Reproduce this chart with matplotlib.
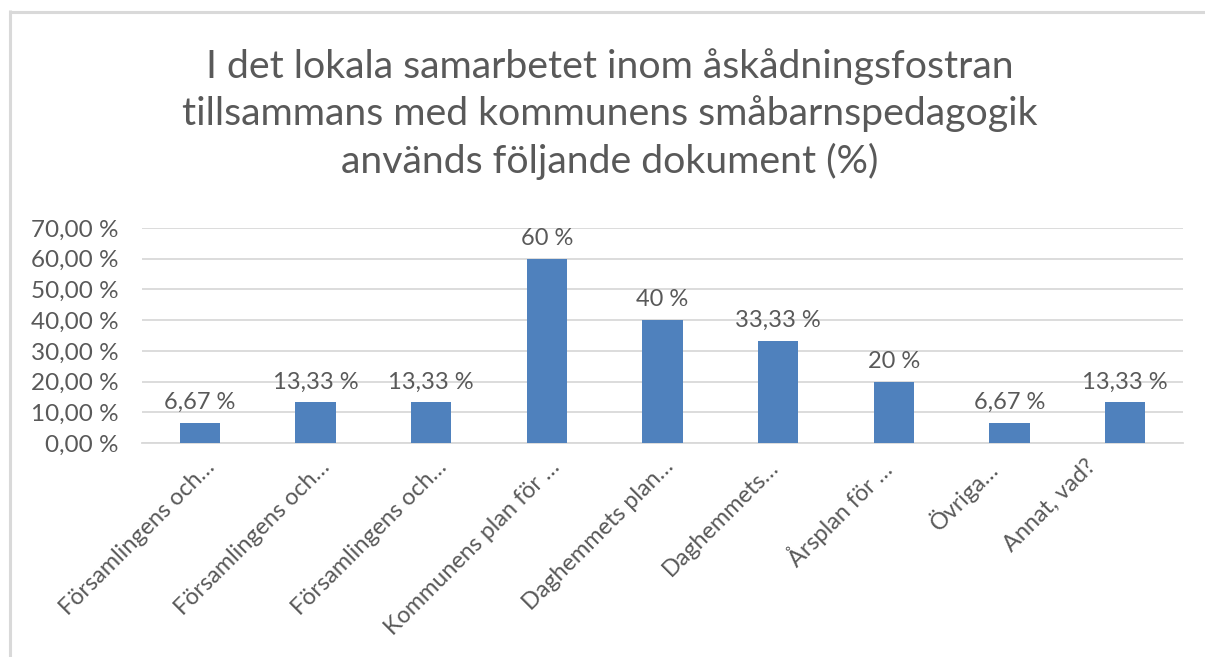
import matplotlib
matplotlib.use("Agg")
import matplotlib.pyplot as plt
from matplotlib.lines import Line2D
from matplotlib.transforms import offset_copy

# ── data ──────────────────────────────────────────────────
categories = [
    "Församlingens och…",
    "Församlingens och…",
    "Församlingens och…",
    "Kommunens plan för …",
    "Daghemmets plan…",
    "Daghemmets…",
    "Årsplan för …",
    "Övriga…",
    "Annat, vad?",
]
values = [6.67, 13.33, 13.33, 60, 40, 33.33, 20, 6.67, 13.33]
yticks = [0, 10, 20, 30, 40, 50, 60, 70]

TITLE = ("I det lokala samarbetet inom åskådningsfostran\n"
         "tillsammans med kommunens småbarnspedagogik\n"
         "används följande dokument (%)")

BAR = '#4f81bd'
TXT = '#595959'
GRID = '#d9d9d9'

plt.rcParams['font.family'] = ['Lato', 'DejaVu Sans']


def pct(v, decimals):
    return f"{v:.{decimals}f}".replace('.', ',') + " %"


W, H = 1205, 657
fig = plt.figure(figsize=(W / 100, H / 100), dpi=100)

# chart frame (only left and top edges visible in the crop)
fig.add_artist(Line2D([9.5 / W, 9.5 / W], [0, 1 - 9.5 / H], transform=fig.transFigure,
                      color=GRID, linewidth=2.2, solid_capstyle='butt'))
fig.add_artist(Line2D([8.5 / W, 1], [1 - 12 / H, 1 - 12 / H], transform=fig.transFigure,
                      color=GRID, linewidth=2.2, solid_capstyle='butt'))

ax = fig.add_axes([0.1178, 0.3257, 0.864, 0.3273])
x = range(len(values))
ax.bar(x, values, width=0.35, color=BAR, zorder=3)
ax.set_xlim(-0.5, len(values) - 0.5)
ax.set_ylim(0, 70)
ax.set_yticks(yticks)
ax.set_yticklabels([pct(t, 2) for t in yticks], fontsize=17.5, color=TXT)
ax.grid(axis='y', color=GRID, linewidth=1.3, zorder=0)
for s in ['top', 'right', 'left']:
    ax.spines[s].set_visible(False)
ax.spines['bottom'].set_color(GRID)
ax.spines['bottom'].set_linewidth(1.3)
ax.tick_params(axis='y', length=0, pad=17)
ax.tick_params(axis='x', length=0)

for i, v in enumerate(values):
    lbl = pct(v, 0) if abs(v - round(v)) < 1e-9 else pct(v, 2)
    ax.annotate(lbl, (i, v), xytext=(0, 7), textcoords='offset points',
                ha='center', va='bottom', fontsize=17, color=TXT)

# rotated category labels, nudged like the Excel layout
shift_px = [4, 3, 5, 2, 0, -10, -15, -24, -40]
ax.set_xticks(list(x))
ax.set_xticklabels([])
for i, c in enumerate(categories):
    tr = offset_copy(ax.get_xaxis_transform(), fig=fig, x=shift_px[i], y=-13, units='dots')
    ax.text(i, 0, c, transform=tr, rotation=45, rotation_mode='anchor',
            ha='right', va='top', fontsize=16.8, color=TXT)

fig.text(0.506, 1 - 48 / H, TITLE, ha='center', va='top', fontsize=28.3,
         color=TXT, linespacing=1.36)

fig.savefig('out.png', dpi=100)
